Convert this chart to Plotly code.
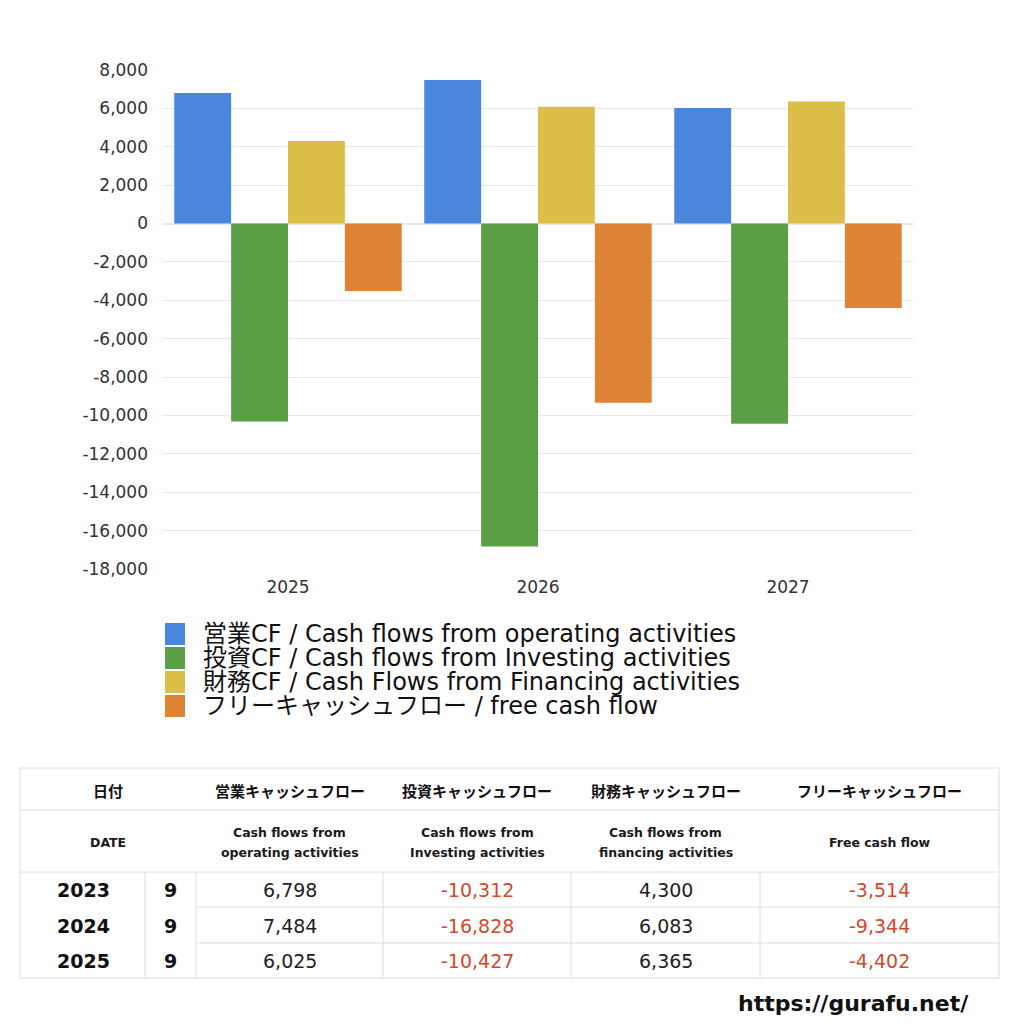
import plotly.graph_objects as go

# ---------------- data ----------------
categories = ["2025", "2026", "2027"]
series_names = [
    "営業CF / Cash flows from operating activities",
    "投資CF / Cash flows from Investing activities",
    "財務CF / Cash Flows from Financing activities",
    "フリーキャッシュフロー / free cash flow",
]
operating = [6798, 7484, 6025]
investing = [-10312, -16828, -10427]
financing = [4300, 6083, 6365]
free_cf = [-3514, -9344, -4402]
y_ticks = [8000, 6000, 4000, 2000, 0, -2000, -4000, -6000, -8000, -10000,
           -12000, -14000, -16000, -18000]

table_years = ["2023", "2024", "2025"]
table_months = ["9", "9", "9"]
header_jp = ["日付", "営業キャッシュフロー", "投資キャッシュフロー", "財務キャッシュフロー", "フリーキャッシュフロー"]
header_en = ["DATE", "Cash flows from<br>operating activities", "Cash flows from<br>Investing activities",
             "Cash flows from<br>financing activities", "Free cash flow"]
site_url = "https://gurafu.net/"

# ---------------- style ----------------
W = H = 1024
FONT = "DejaVu Sans, Noto Sans CJK JP, sans-serif"
JFONT = "Noto Sans CJK JP, sans-serif"
colors = ["#4a86dc", "#5a9e45", "#dcbf48", "#de8434"]
RED = "#d4482e"
GRID = "#e8e8e8"


def px(x):
    return x / W


def py(y):
    return 1 - y / H


fig = go.Figure()
all_series = [operating, investing, financing, free_cf]
for name, vals, c in zip(series_names, all_series, colors):
    fig.add_trace(go.Bar(x=categories, y=vals, name=name, marker=dict(color=c, line=dict(width=0)),
                         showlegend=False))

shapes = []
annotations = []

# custom legend
for i, (name, c) in enumerate(zip(series_names, colors)):
    yc = 634 + i * 24
    shapes.append(dict(type="rect", xref="paper", yref="paper",
                       x0=px(165), x1=px(185), y0=py(yc - 11), y1=py(yc + 11),
                       fillcolor=c, line=dict(width=0)))
    annotations.append(dict(text=name, xref="paper", yref="paper", x=px(201), y=py(yc),
                            xanchor="left", yanchor="middle", showarrow=False,
                            font=dict(family=FONT, size=24, color="#111")))

# table geometry
tx0, tx1 = 20, 999
ty = [768, 810, 872, 907, 943, 978]
col_edges = [20, 145, 196, 383, 571, 760, 999]
hdr_edges = [20, 196, 383, 571, 760, 999]
LINE = "#dcdcdc"

shapes.append(dict(type="rect", xref="paper", yref="paper", x0=px(tx0), x1=px(tx1),
                   y0=py(ty[0]), y1=py(ty[-1]), line=dict(color=LINE, width=1)))
shapes.append(dict(type="line", xref="paper", yref="paper", x0=px(tx0), x1=px(tx1),
                   y0=py(ty[1]), y1=py(ty[1]), line=dict(color=LINE, width=1)))
shapes.append(dict(type="line", xref="paper", yref="paper", x0=px(tx0), x1=px(tx1),
                   y0=py(ty[2]), y1=py(ty[2]), line=dict(color=LINE, width=1)))
for yy in ty[3:5]:
    shapes.append(dict(type="line", xref="paper", yref="paper", x0=px(196), x1=px(tx1),
                       y0=py(yy), y1=py(yy), line=dict(color=LINE, width=1)))
for xx in col_edges[1:-1]:
    shapes.append(dict(type="line", xref="paper", yref="paper", x0=px(xx), x1=px(xx),
                       y0=py(ty[2]), y1=py(ty[-1]), line=dict(color=LINE, width=1)))

# header text
for j in range(5):
    xc = (hdr_edges[j] + hdr_edges[j + 1]) / 2
    annotations.append(dict(text="<b>" + header_jp[j] + "</b>", xref="paper", yref="paper",
                            x=px(xc), y=py(790), xanchor="center", yanchor="middle", showarrow=False,
                            font=dict(family=JFONT, size=15, color="#111")))
    lines = header_en[j].split("<br>")
    if len(lines) == 1:
        ys = [842]
    else:
        ys = [832, 852]
    for line, yl in zip(lines, ys):
        annotations.append(dict(text="<b>" + line + "</b>", xref="paper", yref="paper",
                                x=px(xc), y=py(yl), xanchor="center", yanchor="middle", showarrow=False,
                                font=dict(family=FONT, size=12.5, color="#1a1a1a")))

# data rows
row_centres = [890, 926, 961]
for r in range(3):
    yc = row_centres[r]
    annotations.append(dict(text="<b>" + table_years[r] + "</b>", xref="paper", yref="paper",
                            x=px(83), y=py(yc), xanchor="center", yanchor="middle", showarrow=False,
                            font=dict(family=FONT, size=19, color="#111")))
    annotations.append(dict(text="<b>" + table_months[r] + "</b>", xref="paper", yref="paper",
                            x=px(170.5), y=py(yc), xanchor="center", yanchor="middle", showarrow=False,
                            font=dict(family=FONT, size=19, color="#111")))
    for j, vals in enumerate(all_series):
        v = vals[r]
        xc = (hdr_edges[j + 1] + hdr_edges[j + 2]) / 2
        annotations.append(dict(text=f"{v:,}", xref="paper", yref="paper",
                                x=px(xc), y=py(yc), xanchor="center", yanchor="middle", showarrow=False,
                                font=dict(family=FONT, size=19, color=RED if v < 0 else "#222")))

annotations.append(dict(text="<b>" + site_url + "</b>", xref="paper", yref="paper", x=px(853), y=py(1003),
                        xanchor="center", yanchor="middle", showarrow=False,
                        font=dict(family=FONT, size=22, color="#111")))

fig.update_layout(
    width=W, height=H, margin=dict(l=0, r=0, t=0, b=0),
    paper_bgcolor="white", plot_bgcolor="white",
    barmode="group", bargap=0.09, bargroupgap=0,
    font=dict(family=FONT, color="#333"),
    xaxis=dict(domain=[px(163), px(913)], showline=False, showgrid=False, zeroline=False,
               automargin=False,
               tickfont=dict(size=17, color="#333"), ticks="", ticklabelstandoff=6),
    yaxis=dict(domain=[py(569), py(70)], range=[-18000, 8000],
               tickmode="array", tickvals=y_ticks, ticktext=[f"{v:,}" for v in y_ticks],
               automargin=False,
               showline=False, showgrid=True, gridcolor=GRID, zeroline=True, zerolinecolor=GRID,
               tickfont=dict(size=17, color="#333"), ticks="", ticklabelstandoff=14),
    shapes=shapes, annotations=annotations,
)

fig.write_html("out.html")
